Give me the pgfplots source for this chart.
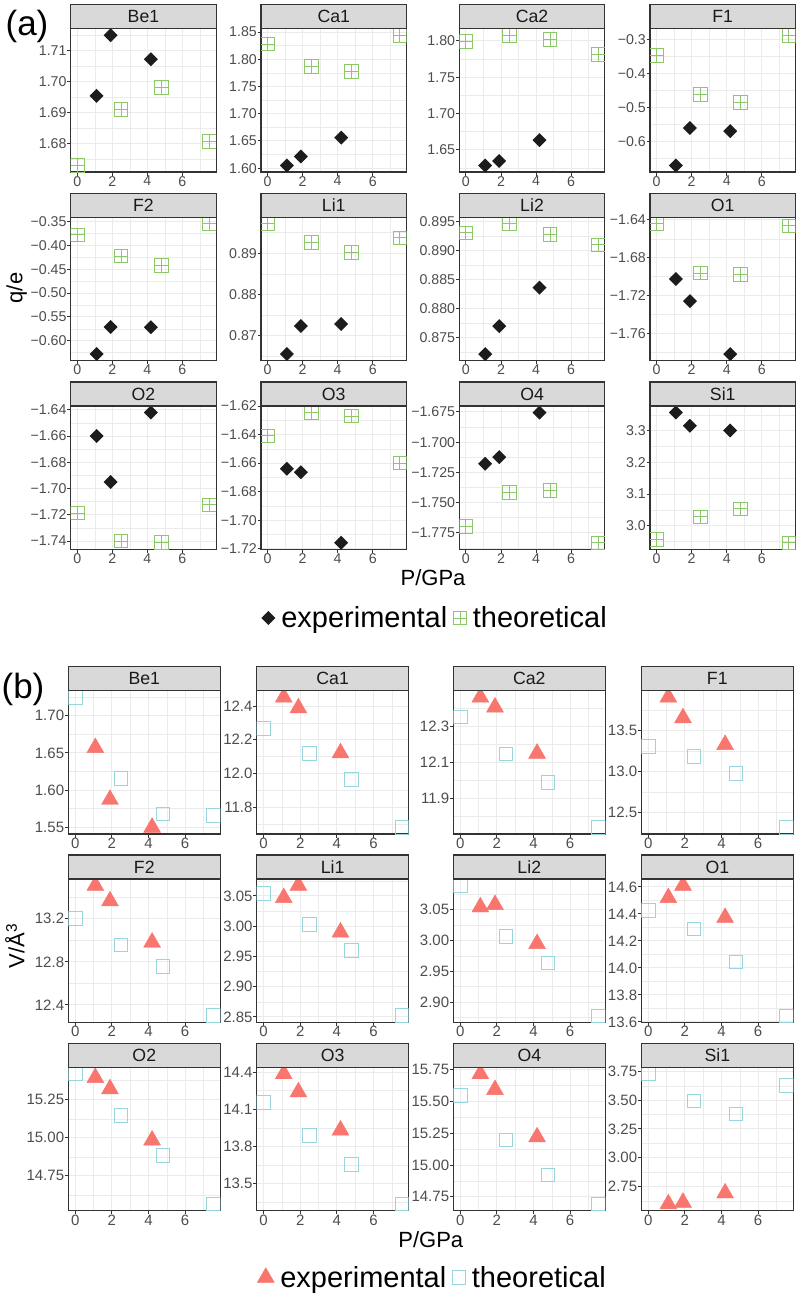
\documentclass[border=0pt]{standalone}
\usepackage{fontspec}
\setmainfont{Liberation Sans}
\usepackage{pgfplots}
\pgfplotsset{compat=1.18}
\definecolor{borderc}{HTML}{333333}
\definecolor{gridc}{HTML}{EBEBEB}
\definecolor{stripc}{HTML}{D9D9D9}
\definecolor{stripText}{HTML}{1A1A1A}
\definecolor{ticklab}{HTML}{4D4D4D}
\definecolor{expAc}{HTML}{1C1C1C}
\definecolor{theoAc}{RGB}{140,200,105}
\definecolor{expBc}{HTML}{F8766D}
\definecolor{theoBc}{RGB}{150,214,220}
\newcommand\tickfontA{\fontsize{14.2}{16}\selectfont}
\newcommand\tickfontB{\fontsize{15}{17}\selectfont}
\newcommand\stripfont{\fontsize{17.7}{20}\selectfont}
\newcommand\labfont{\fontsize{22}{26}\selectfont}
\newcommand\legfont{\fontsize{29}{34}\selectfont}
\newcommand\tagfont{\fontsize{35}{40}\selectfont}
\pgfdeclareplotmark{diaA}{%
  \pgfpathmoveto{\pgfqpoint{0pt}{\pgfplotmarksize}}%
  \pgfpathlineto{\pgfqpoint{\pgfplotmarksize}{0pt}}%
  \pgfpathlineto{\pgfqpoint{0pt}{-\pgfplotmarksize}}%
  \pgfpathlineto{\pgfqpoint{-\pgfplotmarksize}{0pt}}%
  \pgfpathclose\pgfusepathqfill}
\pgfdeclareplotmark{sqplus}{%
  \pgfpathrectangle{\pgfqpoint{-\pgfplotmarksize}{-\pgfplotmarksize}}{\pgfqpoint{2\pgfplotmarksize}{2\pgfplotmarksize}}%
  \pgfpathmoveto{\pgfqpoint{-\pgfplotmarksize}{0pt}}\pgfpathlineto{\pgfqpoint{\pgfplotmarksize}{0pt}}%
  \pgfpathmoveto{\pgfqpoint{0pt}{-\pgfplotmarksize}}\pgfpathlineto{\pgfqpoint{0pt}{\pgfplotmarksize}}%
  \pgfusepathqstroke}
\pgfplotsset{
  facet/.style={
    scale only axis, anchor=north west,
    xmin=-0.3775, xmax=7.9275,
    xtick={0,2,4,6}, xticklabels={0,2,4,6}, minor xtick={1,3,5,7},
    grid=both,
    major grid style={line width=0.9pt, draw=gridc},
    minor grid style={line width=0.45pt, draw=gridc},
    axis line style={line width=1.1pt, draw=borderc},
    tick align=outside, xtick pos=bottom, ytick pos=left,
    major tick length=3.5pt, minor tick length=0pt,
    major tick style={line width=0.9pt, draw=borderc},
    tick label style={text=ticklab, inner sep=0.5pt},
    clip marker paths=true,
    height=143.3pt,
  },
  facetA/.style={facet, width=145.5pt, tick label style={font=\tickfontA}},
  facetB/.style={facet, width=152pt, tick label style={font=\tickfontB}},
  expA/.style={only marks, mark=diaA, mark size=7pt, color=expAc},
  theoA/.style={only marks, mark=sqplus, mark size=6.8pt, color=theoAc, line width=0.9pt},
  expB/.style={only marks, mark=triangle*, mark size=9.8pt, color=expBc},
  theoB/.style={only marks, mark=square, mark size=6.8pt, color=theoBc, line width=1pt},
  mylegend/.style={legend columns=2,
    legend style={draw=none, fill=none, font=\legfont, anchor=center, column sep=5pt, nodes={inner sep=1pt}},
    legend image code/.code={\draw[##1] plot coordinates {(0pt,0pt)};}},
}
\newcommand{\strip}[4]{%
  \draw[line width=1.1pt, draw=borderc, fill=stripc] (#1pt,-#2pt) rectangle ++(#3pt,24pt);
  \node[font=\stripfont, text=stripText, inner sep=0pt] at ({#1pt+0.5*#3pt},{-#2pt+12pt}) {#4};}
\begin{document}
\begin{tikzpicture}
\useasboundingbox (0pt,0pt) rectangle (800pt,-1301pt);
% ================= (a) =================
% row 1
\begin{axis}[facetA, at={(70.7pt,-28.7pt)}, ymin=1.6708, ymax=1.7171,
  ytick={1.68,1.69,1.70,1.71}, yticklabels={1.68,1.69,1.70,1.71},
  minor ytick={1.675,1.685,1.695,1.705,1.715}]
\addplot[expA] coordinates {(1.1,1.6954) (1.9,1.7150) (4.2,1.7072)};
\addplot[theoA] coordinates {(0,1.6729) (2.5,1.6910) (4.8,1.6981) (7.55,1.6806)};
\end{axis}
\strip{70.7}{28.7}{145.5}{Be1}
\begin{axis}[facetA, at={(261pt,-28.7pt)}, ymin=1.593, ymax=1.856,
  ytick={1.60,1.65,1.70,1.75,1.80,1.85}, yticklabels={1.60,1.65,1.70,1.75,1.80,1.85},
  minor ytick={1.625,1.675,1.725,1.775,1.825}]
\addplot[expA] coordinates {(1.1,1.605) (1.9,1.6216) (4.2,1.656)};
\addplot[theoA] coordinates {(0,1.8277) (2.5,1.7865) (4.8,1.7773) (7.55,1.844)};
\end{axis}
\strip{261}{28.7}{145.5}{Ca1}
\begin{axis}[facetA, at={(459.3pt,-28.7pt)}, ymin=1.6194, ymax=1.8168,
  ytick={1.65,1.70,1.75,1.80}, yticklabels={1.65,1.70,1.75,1.80},
  minor ytick={1.625,1.675,1.725,1.775}]
\addplot[expA] coordinates {(1.1,1.6284) (1.9,1.6345) (4.2,1.6633)};
\addplot[theoA] coordinates {(0,1.7991) (2.5,1.8078) (4.8,1.802) (7.55,1.7817)};
\end{axis}
\strip{459.3}{28.7}{145.5}{Ca2}
\begin{axis}[facetA, at={(650pt,-28.7pt)}, ymin=-0.6912, ymax=-0.2681,
  ytick={-0.6,-0.5,-0.4,-0.3}, yticklabels={−0.6,−0.5,−0.4,−0.3},
  minor ytick={-0.65,-0.55,-0.45,-0.35}]
\addplot[expA] coordinates {(1.1,-0.672) (1.9,-0.5615) (4.2,-0.5704)};
\addplot[theoA] coordinates {(0,-0.3464) (2.5,-0.462) (4.8,-0.4867) (7.55,-0.2873)};
\end{axis}
\strip{650}{28.7}{145.5}{F1}
% row 2
\begin{axis}[facetA, at={(70.7pt,-217.3pt)}, ymin=-0.6417, ymax=-0.3411,
  ytick={-0.60,-0.55,-0.50,-0.45,-0.40,-0.35}, yticklabels={−0.60,−0.55,−0.50,−0.45,−0.40,−0.35},
  minor ytick={-0.625,-0.575,-0.525,-0.475,-0.425,-0.375}]
\addplot[expA] coordinates {(1.1,-0.628) (1.9,-0.571) (4.2,-0.5718)};
\addplot[theoA] coordinates {(0,-0.378) (2.5,-0.4225) (4.8,-0.442) (7.55,-0.3548)};
\end{axis}
\strip{70.7}{217.3}{145.5}{F2}
\begin{axis}[facetA, at={(261pt,-217.3pt)}, ymin=0.86398, ymax=0.89869,
  ytick={0.87,0.88,0.89}, yticklabels={0.87,0.88,0.89},
  minor ytick={0.865,0.875,0.885,0.895}]
\addplot[expA] coordinates {(1.1,0.86556) (1.9,0.87235) (4.2,0.87284)};
\addplot[theoA] coordinates {(0,0.89711) (2.5,0.89257) (4.8,0.89015) (7.55,0.8937)};
\end{axis}
\strip{261}{217.3}{145.5}{Li1}
\begin{axis}[facetA, at={(459.3pt,-217.3pt)}, ymin=0.87109, ymax=0.89568,
  ytick={0.875,0.880,0.885,0.890,0.895}, yticklabels={0.875,0.880,0.885,0.890,0.895},
  minor ytick={0.8725,0.8775,0.8825,0.8875,0.8925}]
\addplot[expA] coordinates {(1.1,0.87221) (1.9,0.8770) (4.2,0.88363)};
\addplot[theoA] coordinates {(0,0.89302) (2.5,0.89456) (4.8,0.89272) (7.55,0.89097)};
\end{axis}
\strip{459.3}{217.3}{145.5}{Li2}
\begin{axis}[facetA, at={(650pt,-217.3pt)}, ymin=-1.7888, ymax=-1.6373,
  ytick={-1.76,-1.72,-1.68,-1.64}, yticklabels={−1.76,−1.72,−1.68,−1.64},
  minor ytick={-1.78,-1.74,-1.70,-1.66}]
\addplot[expA] coordinates {(1.1,-1.7025) (1.9,-1.7259) (4.2,-1.7819)};
\addplot[theoA] coordinates {(0,-1.6442) (2.5,-1.6962) (4.8,-1.698) (7.55,-1.6463)};
\end{axis}
\strip{650}{217.3}{145.5}{O1}
% row 3
\begin{axis}[facetA, at={(70.7pt,-406pt)}, ymin=-1.7463, ymax=-1.6371,
  ytick={-1.74,-1.72,-1.70,-1.68,-1.66,-1.64}, yticklabels={−1.74,−1.72,−1.70,−1.68,−1.66,−1.64},
  minor ytick={-1.73,-1.71,-1.69,-1.67,-1.65}]
\addplot[expA] coordinates {(1.1,-1.66) (1.9,-1.695) (4.2,-1.6421)};
\addplot[theoA] coordinates {(0,-1.7187) (2.5,-1.74) (4.8,-1.7413) (7.55,-1.7124)};
\end{axis}
\strip{70.7}{406}{145.5}{O2}
\begin{axis}[facetA, at={(261pt,-406pt)}, ymin=-1.7204, ymax=-1.6200,
  ytick={-1.72,-1.70,-1.68,-1.66,-1.64,-1.62}, yticklabels={−1.72,−1.70,−1.68,−1.66,−1.64,−1.62},
  minor ytick={-1.71,-1.69,-1.67,-1.65,-1.63}, mylegend,
  legend style={at={(1.1924,-0.4794)}}]
\addplot[expA] coordinates {(1.1,-1.664) (1.9,-1.6664) (4.2,-1.7158)};
\addplot[theoA] coordinates {(0,-1.6409) (2.5,-1.6246) (4.8,-1.627) (7.55,-1.66)};
\legend{experimental,theoretical}
\end{axis}
\strip{261}{406}{145.5}{O3}
\begin{axis}[facetA, at={(459.3pt,-406pt)}, ymin=-1.7887, ymax=-1.6701,
  ytick={-1.775,-1.750,-1.725,-1.700,-1.675}, yticklabels={−1.775,−1.750,−1.725,−1.700,−1.675},
  minor ytick={-1.7875,-1.7625,-1.7375,-1.7125,-1.6875}]
\addplot[expA] coordinates {(1.1,-1.7179) (1.9,-1.7124) (4.2,-1.6755)};
\addplot[theoA] coordinates {(0,-1.7698) (2.5,-1.7416) (4.8,-1.7402) (7.55,-1.7833)};
\end{axis}
\strip{459.3}{406}{145.5}{O4}
\begin{axis}[facetA, at={(650pt,-406pt)}, ymin=2.9248, ymax=3.3784,
  ytick={3.0,3.1,3.2,3.3}, yticklabels={3.0,3.1,3.2,3.3},
  minor ytick={2.95,3.05,3.15,3.25,3.35}]
\addplot[expA] coordinates {(1.1,3.3578) (1.9,3.3158) (4.2,3.301)};
\addplot[theoA] coordinates {(0,2.9558) (2.5,3.0275) (4.8,3.0527) (7.55,2.9454)};
\end{axis}
\strip{650}{406}{145.5}{Si1}
\node[font=\labfont, rotate=90] at (16.7pt,-288pt) {q/e};
\node[font=\labfont, anchor=base] at (433pt,-585pt) {P/GPa};
\node[font=\tagfont] at (27pt,-26pt) {(a)};
% ================= (b) =================
\begin{axis}[facetB, at={(68.3pt,-690.7pt)}, ymin=1.5409, ymax=1.7337,
  ytick={1.55,1.60,1.65,1.70}, yticklabels={1.55,1.60,1.65,1.70},
  minor ytick={1.575,1.625,1.675,1.725}]
\addplot[expB] coordinates {(1.1,1.657) (1.9,1.5872) (4.2,1.5497)};
\addplot[theoB] coordinates {(0,1.7249) (2.5,1.6156) (4.8,1.5679) (7.55,1.5656)};
\end{axis}
\strip{68.3}{690.7}{152}{Be1}
\begin{axis}[facetB, at={(256.7pt,-690.7pt)}, ymin=11.640, ymax=12.491,
  ytick={11.8,12.0,12.2,12.4}, yticklabels={11.8,12.0,12.2,12.4},
  minor ytick={11.7,11.9,12.1,12.3}]
\addplot[expB] coordinates {(1.1,12.452) (1.9,12.388) (4.2,12.121)};
\addplot[theoB] coordinates {(0,12.266) (2.5,12.118) (4.8,11.965) (7.55,11.679)};
\end{axis}
\strip{256.7}{690.7}{152}{Ca1}
\begin{axis}[facetB, at={(453.3pt,-690.7pt)}, ymin=11.703, ymax=12.496,
  ytick={11.9,12.1,12.3}, yticklabels={11.9,12.1,12.3},
  minor ytick={11.8,12.0,12.2,12.4}]
\addplot[expB] coordinates {(1.1,12.46) (1.9,12.405) (4.2,12.149)};
\addplot[theoB] coordinates {(0,12.351) (2.5,12.145) (4.8,11.988) (7.55,11.739)};
\end{axis}
\strip{453.3}{690.7}{152}{Ca2}
\begin{axis}[facetB, at={(641.3pt,-690.7pt)}, ymin=12.2365, ymax=13.9855,
  ytick={12.5,13.0,13.5}, yticklabels={12.5,13.0,13.5},
  minor ytick={12.25,12.75,13.25,13.75}]
\addplot[expB] coordinates {(1.1,13.906) (1.9,13.653) (4.2,13.327)};
\addplot[theoB] coordinates {(0,13.304) (2.5,13.181) (4.8,12.976) (7.55,12.316)};
\end{axis}
\strip{641.3}{690.7}{152}{F1}
% row 2
\begin{axis}[facetB, at={(68.3pt,-879pt)}, ymin=12.2385, ymax=13.5695,
  ytick={12.4,12.8,13.2}, yticklabels={12.4,12.8,13.2},
  minor ytick={12.6,13.0,13.4}]
\addplot[expB] coordinates {(1.1,13.509) (1.9,13.365) (4.2,12.981)};
\addplot[theoB] coordinates {(0,13.2) (2.5,12.958) (4.8,12.759) (7.55,12.299)};
\end{axis}
\strip{68.3}{879}{152}{F2}
\begin{axis}[facetB, at={(256.7pt,-879pt)}, ymin=2.841, ymax=3.078,
  ytick={2.85,2.90,2.95,3.00,3.05}, yticklabels={2.85,2.90,2.95,3.00,3.05},
  minor ytick={2.875,2.925,2.975,3.025,3.075}]
\addplot[expB] coordinates {(1.1,3.047) (1.9,3.0673) (4.2,2.990)};
\addplot[theoB] coordinates {(0,3.0544) (2.5,3.0023) (4.8,2.9593) (7.55,2.852)};
\end{axis}
\strip{256.7}{879}{152}{Li1}
\begin{axis}[facetB, at={(453.3pt,-879pt)}, ymin=2.867, ymax=3.0996,
  ytick={2.90,2.95,3.00,3.05}, yticklabels={2.90,2.95,3.00,3.05},
  minor ytick={2.875,2.925,2.975,3.025,3.075}]
\addplot[expB] coordinates {(1.1,3.054) (1.9,3.0579) (4.2,2.9945)};
\addplot[theoB] coordinates {(0,3.089) (2.5,3.0064) (4.8,2.9635) (7.55,2.8775)};
\end{axis}
\strip{453.3}{879}{152}{Li2}
\begin{axis}[facetB, at={(641.3pt,-879pt)}, ymin=13.597, ymax=14.658,
  ytick={13.6,13.8,14.0,14.2,14.4,14.6}, yticklabels={13.6,13.8,14.0,14.2,14.4,14.6},
  minor ytick={13.7,13.9,14.1,14.3,14.5}]
\addplot[expB] coordinates {(1.1,14.519) (1.9,14.61) (4.2,14.372)};
\addplot[theoB] coordinates {(0,14.427) (2.5,14.288) (4.8,14.043) (7.55,13.645)};
\end{axis}
\strip{641.3}{879}{152}{O1}
% row 3
\begin{axis}[facetB, at={(68.3pt,-1067.3pt)}, ymin=14.522, ymax=15.463,
  ytick={14.75,15.00,15.25}, yticklabels={14.75,15.00,15.25},
  minor ytick={14.625,14.875,15.125,15.375}]
\addplot[expB] coordinates {(1.1,15.395) (1.9,15.321) (4.2,14.984)};
\addplot[theoB] coordinates {(0,15.42) (2.5,15.1456) (4.8,14.885) (7.55,14.565)};
\end{axis}
\strip{68.3}{1067.3}{152}{O2}
\begin{axis}[facetB, at={(256.7pt,-1067.3pt)}, ymin=13.281, ymax=14.439,
  ytick={13.5,13.8,14.1,14.4}, yticklabels={13.5,13.8,14.1,14.4},
  minor ytick={13.35,13.65,13.95,14.25}, mylegend,
  legend style={at={(1.1533,-0.4668)}}]
\addplot[expB] coordinates {(1.1,14.386) (1.9,14.239) (4.2,13.931)};
\addplot[theoB] coordinates {(0,14.154) (2.5,13.886) (4.8,13.654) (7.55,13.334)};
\legend{experimental,theoretical}
\end{axis}
\strip{256.7}{1067.3}{152}{O3}
\begin{axis}[facetB, at={(453.3pt,-1067.3pt)}, ymin=14.642, ymax=15.767,
  ytick={14.75,15.00,15.25,15.50,15.75}, yticklabels={14.75,15.00,15.25,15.50,15.75},
  minor ytick={14.875,15.125,15.375,15.625}]
\addplot[expB] coordinates {(1.1,15.7155) (1.9,15.591) (4.2,15.22)};
\addplot[theoB] coordinates {(0,15.545) (2.5,15.195) (4.8,14.922) (7.55,14.693)};
\end{axis}
\strip{453.3}{1067.3}{152}{O4}
\begin{axis}[facetB, at={(641.3pt,-1067.3pt)}, ymin=2.540, ymax=3.785,
  ytick={2.75,3.00,3.25,3.50,3.75}, yticklabels={2.75,3.00,3.25,3.50,3.75},
  minor ytick={2.625,2.875,3.125,3.375,3.625}]
\addplot[expB] coordinates {(1.1,2.597) (1.9,2.611) (4.2,2.692)};
\addplot[theoB] coordinates {(0,3.728) (2.5,3.494) (4.8,3.379) (7.55,3.629)};
\end{axis}
\strip{641.3}{1067.3}{152}{Si1}
\node[font=\labfont, rotate=90] at (15pt,-946pt) {V/Å\textsuperscript{3}};
\node[font=\labfont, anchor=base] at (430.8pt,-1247.3pt) {P/GPa};
\node[font=\tagfont] at (23pt,-689.2pt) {(b)};
\end{tikzpicture}
\end{document}
